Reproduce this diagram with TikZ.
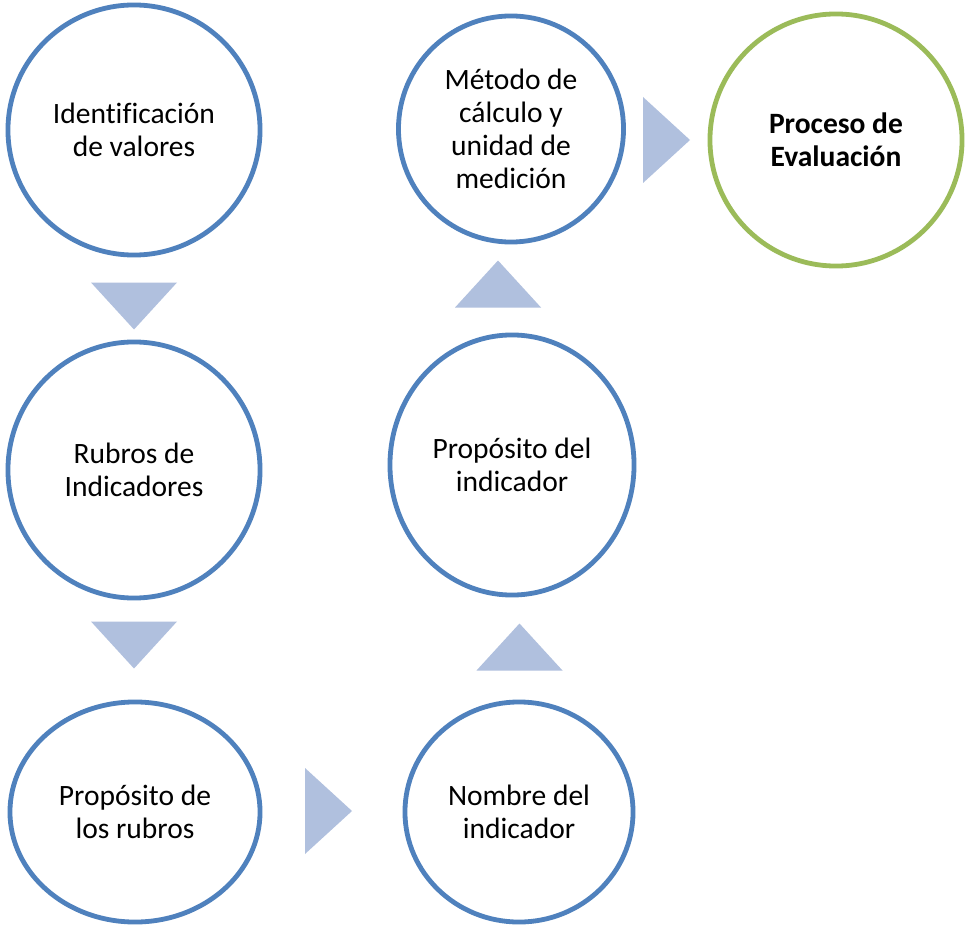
\documentclass[tikz,border=0pt]{standalone}
\usepackage{fontspec}
\setmainfont{Carlito}[Ligatures=NoCommon]
\usetikzlibrary{shapes.geometric, positioning}
\definecolor{cRing}{RGB}{79, 129, 189}
\definecolor{cGoal}{RGB}{155, 187, 89}
\definecolor{cArrow}{RGB}{176, 192, 222}
\tikzset{
    stageRing/.style={
        ellipse, draw=cRing, line width=1.2mm, fill=white,
        inner sep=0pt, align=center,
        font=\fontsize{21}{23.5}\selectfont
    },
    goalRing/.style={
        stageRing, draw=cGoal,
        font=\fontsize{21}{23.5}\selectfont\bfseries
    },
    flowTri/.style={
        fill=cArrow, draw=none
    }
}

\begin{document}
\begin{tikzpicture}[x=0.025cm, y=-0.025cm]

	% =========================================================
	% Canvas
	% =========================================================

	\useasboundingbox [fill=white] (0,0) rectangle (967,926);

	% =========================================================
	% Stages
	% =========================================================

	\node [stageRing, minimum width=6.3cm, minimum height=6.25cm] (valores) at (134,130) {
		Identificación\\de valores
	};

	\node [stageRing, minimum width=6.3cm, minimum height=6.4cm] (rubros) at (134,470) {
		Rubros de\\Indicadores
	};

	\node [stageRing, minimum width=6.25cm, minimum height=5.5cm] (propRubros) at (135,812) {
		Propósito de\\los rubros
	};

	\node [stageRing, minimum width=5.7cm, minimum height=5.5cm] (nombre) at (519,812) {
		Nombre del\\indicador
	};

	\node [stageRing, minimum width=6.1cm, minimum height=6.5cm] (propIndicador) at (512,465) {
		Propósito del\\indicador
	};

	\node [stageRing, minimum width=5.625cm, minimum height=5.65cm] (metodo) at (511,129) {
		Método de\\cálculo y\\unidad de\\medición
	};

	\node [goalRing, minimum width=6.3cm, minimum height=6.3cm] (evaluacion) at (836,140) {
		Proceso de\\Evaluación
	};

	% =========================================================
	% Flow arrows (triangles)
	% =========================================================

	\foreach \cx/\cy/\ang in {134/306/-90, 134/645/-90, 328.5/811/0,
			519.5/647/90, 498/284/90, 666.5/140/0} {
			\fill [flowTri, shift={(\cx,\cy)}, rotate=\ang]
				(-23.5,-43) -- (23.5,0) -- (-23.5,43) -- cycle;
		}

\end{tikzpicture}
\end{document}
